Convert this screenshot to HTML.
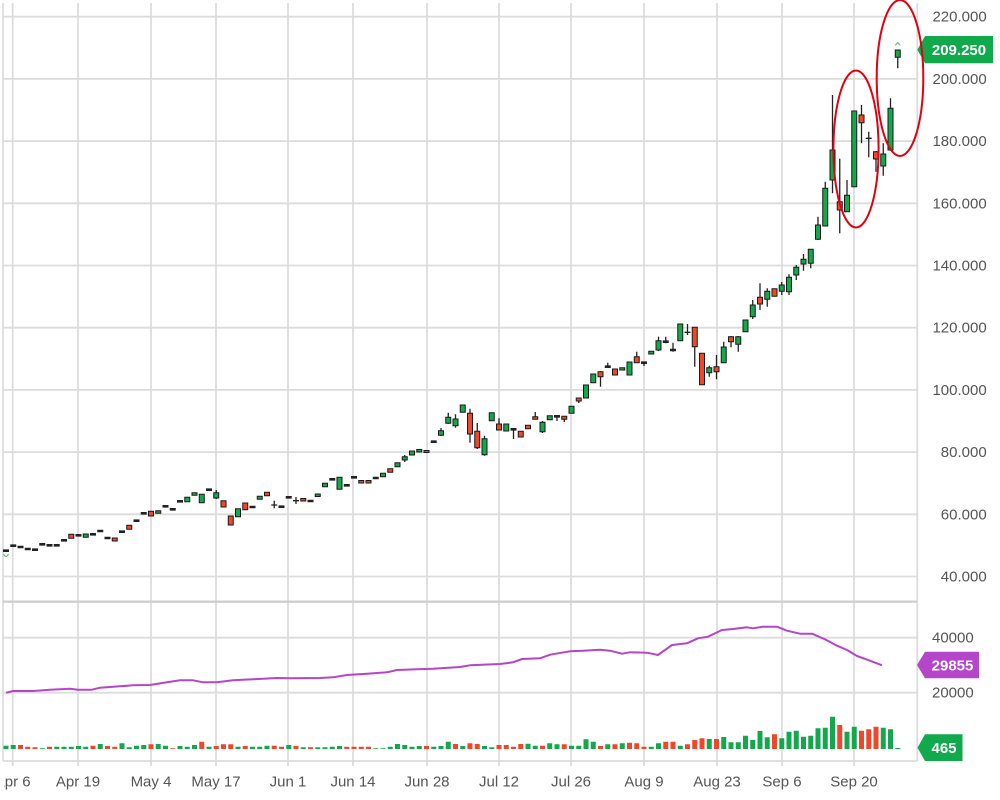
<!DOCTYPE html>
<html><head><meta charset="utf-8"><style>
html,body{margin:0;padding:0;background:#fff;}
svg{display:block;}
.gl{stroke:#dcdcdc;stroke-width:1.8;fill:none;}
.ax{font-family:"Liberation Sans",sans-serif;font-size:15px;fill:#555;}
.bt{font-family:"Liberation Sans",sans-serif;font-size:15px;font-weight:bold;fill:#fff;}
</style></head><body>
<svg width="1000" height="800" viewBox="0 0 1000 800" xmlns="http://www.w3.org/2000/svg">
<rect width="1000" height="800" fill="#fff"/>
<defs><clipPath id="lc"><rect x="4" y="760" width="200" height="40"/></clipPath></defs>

<path class="gl" d="M3,3V761M12.7,3V766M78,3V766M151,3V766M216,3V766M288,3V766M353,3V766M427,3V766M499,3V766M571,3V766M644,3V766M717,3V766M782,3V766M854,3V766M917.3,3V761M3,16.7H917M3,78.9H917M3,141.1H917M3,203.3H917M3,265.5H917M3,327.7H917M3,389.9H917M3,452.1H917M3,514.3H917M3,576.5H917M3,637.7H917M3,692.7H917M3,761H917"/>
<line x1="3" y1="601.7" x2="917" y2="601.7" stroke="#cfcfcf" stroke-width="2.4"/>

<g class="ax" text-anchor="end">
<text x="986.7" y="21.7">220.000</text>
<text x="986.7" y="83.9">200.000</text>
<text x="986.7" y="146.1">180.000</text>
<text x="986.7" y="208.3">160.000</text>
<text x="986.7" y="270.5">140.000</text>
<text x="986.7" y="332.7">120.000</text>
<text x="986.7" y="394.9">100.000</text>
<text x="986.7" y="457.1">80.000</text>
<text x="986.7" y="519.3">60.000</text>
<text x="986.7" y="581.5">40.000</text>
</g>
<g class="ax">
<text x="932" y="642.7">40000</text>
<text x="932" y="697.7">20000</text>
</g>
<g class="ax" text-anchor="middle">
<text x="12.7" y="786.5" clip-path="url(#lc)">Apr 6</text>
<text x="78" y="786.5">Apr 19</text>
<text x="151" y="786.5">May 4</text>
<text x="216" y="786.5">May 17</text>
<text x="288" y="786.5">Jun 1</text>
<text x="353" y="786.5">Jun 14</text>
<text x="427" y="786.5">Jun 28</text>
<text x="499" y="786.5">Jul 12</text>
<text x="571" y="786.5">Jul 26</text>
<text x="644" y="786.5">Aug 9</text>
<text x="717" y="786.5">Aug 23</text>
<text x="782" y="786.5">Sep 6</text>
<text x="854" y="786.5">Sep 20</text>
</g>

<!-- wicks -->
<path fill="none" stroke="#222" stroke-width="1.3" d="M216.25,490V499M274.25,500.7V508.3M271.25,505H277.25M296,497V504M293,500.7H299M404.75,455V462M441,428V436M448.25,412.7V424M455.5,414.3V427.7M470,408.7V442.7M477.25,423V449M484.5,435.7V455.7M499,418.3V430M513.5,429V439M535.25,412V419M542.5,421V433M557,416V421M564.25,416V422M578.75,398V403M600.5,371V386.7M607.75,362.7V367M636.75,351.7V362.7M644,362V366M658.5,336.7V351M665.75,336.7V343.3M673,342.7V351.7M687.5,324V335M684.5,332.3H690.5M694.75,327V366.7M709.25,365.7V376.7M716.5,355V379.3M723.75,341.7V363M731,336V347.3M738.25,336V351.7M752.75,300V319M760,283.3V310M767.25,288.3V306.7M781.75,282V295M789,274.3V295M796.25,265V280M803.5,254V270.7M810.75,249V268.3M818,216.7V240M825.25,181.7V226M832.5,95V193.3M839.75,158.7V233.3M847,180V212M861.5,105V143.3M868.75,131.7V157.3M865.75,138.3H871.75M876,151V171.7M883.25,143.3V175.7M890.5,98.3V150M897.75,50V68.3"/>

<!-- dash candles -->
<path fill="#222" d="M3,549.4h6v2.6h-6zM10.25,544.4h6v2.6h-6zM17.5,545.7h6v2.6h-6zM24.75,547.7h6v2.6h-6zM32,548.4h6v2.6h-6zM39.25,543h6v2.6h-6zM46.5,544h6v2.6h-6zM53.75,544h6v2.6h-6zM61,539h6v2.6h-6zM75.5,534h6v2.6h-6zM90,533h6v2.6h-6zM97.25,529.7h6v2.6h-6zM104.5,536.7h6v2.6h-6zM119,530.4h6v2.6h-6zM133.5,519.4h6v2.6h-6zM140.75,512h6v2.6h-6zM162.5,505h6v2.6h-6zM169.75,508h6v2.6h-6zM177,500h6v2.6h-6zM206,488.4h6v2.6h-6zM249.5,505.7h6v2.6h-6zM278.5,505.4h6v2.6h-6zM285.75,496h6v2.6h-6zM307.5,499.7h6v2.6h-6zM329.25,478h6v2.6h-6zM343.75,484h6v2.6h-6zM351,476h6v2.6h-6zM372.75,476.7h6v2.6h-6zM430.75,440.4h6v2.6h-6zM510.5,428h6v2.6h-6zM554,415h6v2.6h-6zM604.75,365.4h6v2.6h-6zM641,361.4h6v2.6h-6zM662.75,340.4h6v2.6h-6zM670,348.7h6v2.6h-6z"/>

<!-- green candles -->
<path fill="#13a84c" stroke="#1a1a1a" stroke-width="1" d="M83.25,534h5v3.3h-5zM155.75,510.7h5v2.6h-5zM184.75,497.3h5v4.4h-5zM192,492.7h5v2.6h-5zM199.25,494.3h5v8.4h-5zM213.75,492.7h5v5.3h-5zM235.5,508.7h5v8h-5zM257.25,496.3h5v3h-5zM315.25,494h5v2.5h-5zM322.5,483.3h5v3.4h-5zM337,477.3h5v12h-5zM380.5,473.3h5v3.4h-5zM395,462.7h5v4h-5zM402.25,456.7h5v3.3h-5zM409.5,451h5v4h-5zM416.75,449.5h5v2.5h-5zM424,450.5h5v2h-5zM438.5,430.7h5v4.6h-5zM445.75,417.3h5v6h-5zM453,419h5v6.7h-5zM460.25,405h5v7.3h-5zM482,438.7h5v16h-5zM489.25,412.7h5v8h-5zM503.75,424h5v7h-5zM540,422.3h5v9.4h-5zM547.25,415.7h5v4h-5zM569,406.3h5v7h-5zM583.5,385h5v13h-5zM590.75,374h5v8.7h-5zM619.75,367.7h5v2.3h-5zM627,362h5v13h-5zM648.75,351.3h5v2.7h-5zM656,340.7h5v9.3h-5zM677.75,324h5v16.7h-5zM706.75,367.7h5v5h-5zM721.25,347h5v15.7h-5zM735.75,336.7h5v7.6h-5zM743,320h5v11.7h-5zM750.25,305h5v11.7h-5zM764.75,291.3h5v8h-5zM779.25,285h5v6.3h-5zM786.5,277.3h5v14.4h-5zM793.75,267.3h5v7.7h-5zM801,259.3h5v4.7h-5zM808.25,249.3h5v14h-5zM815.5,225h5v14.3h-5zM822.75,188.3h5v37.7h-5zM830,150h5v30h-5zM844.5,195.3h5v16.4h-5zM851.75,111h5v75.7h-5zM880.75,154h5v12h-5zM888,108.3h5v41.7h-5zM895.25,50h5v7.3h-5z"/>

<!-- red candles -->
<path fill="#f0472a" stroke="#1a1a1a" stroke-width="1" d="M68.75,534.3h5v4h-5zM112.25,538h5v3h-5zM126.75,525.3h5v4h-5zM148.5,511.3h5v4.7h-5zM221,500.7h5v6.3h-5zM228.25,516h5v9h-5zM242.75,503h5v6.7h-5zM264.5,492.3h5v3.4h-5zM300.75,498.5h5v2.5h-5zM358.75,480.5h5v2.5h-5zM366,480.5h5v2.5h-5zM387.75,468.7h5v3.6h-5zM467.5,413.3h5v20.7h-5zM474.75,431.3h5v16.4h-5zM496.5,424h5v6h-5zM518.25,431.3h5v5.7h-5zM525.5,425.3h5v3.4h-5zM532.75,416.7h5v2.6h-5zM561.75,416.3h5v3h-5zM576.25,398h5v3h-5zM598,371.7h5v5h-5zM612.5,369h5v6h-5zM634.25,356.7h5v6h-5zM692.25,327.3h5v19.4h-5zM699.5,353.3h5v31.4h-5zM714,366.7h5v5h-5zM728.5,336.7h5v5h-5zM757.5,297.3h5v6.7h-5zM772,288.7h5v7.6h-5zM837.25,201.7h5v8.3h-5zM859,115h5v7.7h-5zM873.5,151.7h5v7.3h-5z"/>

<!-- markers -->
<path d="M3.5,554 Q6,559 8.5,554" stroke="#5cc775" stroke-width="1.2" fill="none"/>
<polyline points="895.2,45.4 897.7,42.5 900.2,45.4" stroke="#5cc775" stroke-width="1.2" fill="none"/>

<!-- volume bars green -->
<path fill="#13a84c" d="M3.5,749v-3.3h5v3.3zM10.75,749v-4h5v4zM39.75,749v-0.8h5v0.8zM54.25,749v-2.3h5v2.3zM61.5,749v-2.3h5v2.3zM68.75,749v-2.3h5v2.3zM76,749v-3h5v3zM83.25,749v-2.3h5v2.3zM97.75,749v-5h5v5zM119.5,749v-5.7h5v5.7zM126.75,749v-1.7h5v1.7zM134,749v-3.3h5v3.3zM141.25,749v-4h5v4zM155.75,749v-5h5v5zM163,749v-3.3h5v3.3zM177.5,749v-3h5v3zM184.75,749v-2.3h5v2.3zM192,749v-4h5v4zM206.5,749v-2.3h5v2.3zM235.5,749v-2.3h5v2.3zM250,749v-2.3h5v2.3zM257.25,749v-2.3h5v2.3zM264.5,749v-3.3h5v3.3zM286.25,749v-4h5v4zM300.75,749v-1.7h5v1.7zM315.25,749v-1.7h5v1.7zM322.5,749v-1.7h5v1.7zM329.75,749v-2.3h5v2.3zM337,749v-3h5v3zM373.25,749v-0.8h5v0.8zM380.5,749v-0.8h5v0.8zM387.75,749v-2.3h5v2.3zM395,749v-5h5v5zM402.25,749v-4h5v4zM409.5,749v-2.3h5v2.3zM416.75,749v-3h5v3zM431.25,749v-2.3h5v2.3zM438.5,749v-3h5v3zM445.75,749v-7.3h5v7.3zM460.25,749v-3h5v3zM482,749v-3h5v3zM489.25,749v-1.7h5v1.7zM525.5,749v-5.3h5v5.3zM532.75,749v-3.3h5v3.3zM547.25,749v-5.7h5v5.7zM554.5,749v-4.7h5v4.7zM569,749v-3.3h5v3.3zM576.25,749v-3.3h5v3.3zM583.5,749v-9.7h5v9.7zM590.75,749v-7.3h5v7.3zM605.25,749v-4.7h5v4.7zM619.75,749v-5.7h5v5.7zM648.75,749v-2.3h5v2.3zM656,749v-5.7h5v5.7zM677.75,749v-3.3h5v3.3zM706.75,749v-10h5v10zM721.25,749v-12h5v12zM728.5,749v-6.7h5v6.7zM735.75,749v-6.7h5v6.7zM743,749v-13.3h5v13.3zM750.25,749v-9h5v9zM757.5,749v-18h5v18zM764.75,749v-11.7h5v11.7zM779.25,749v-10.7h5v10.7zM786.5,749v-17.3h5v17.3zM793.75,749v-18.3h5v18.3zM801,749v-12.3h5v12.3zM808.25,749v-13.3h5v13.3zM815.5,749v-20.7h5v20.7zM822.75,749v-21.3h5v21.3zM830,749v-32.3h5v32.3zM844.5,749v-17.3h5v17.3zM851.75,749v-22.3h5v22.3zM880.75,749v-21.3h5v21.3zM888,749v-19.7h5v19.7zM895.25,749v-1h5v1z"/>

<!-- volume bars red -->
<path fill="#f0472a" d="M18,749v-4h5v4zM25.25,749v-2.3h5v2.3zM32.5,749v-1.7h5v1.7zM47,749v-2.3h5v2.3zM90.5,749v-3.3h5v3.3zM105,749v-3h5v3zM112.25,749v-2.3h5v2.3zM148.5,749v-4.7h5v4.7zM170.25,749v-0.8h5v0.8zM199.25,749v-7.3h5v7.3zM213.75,749v-3h5v3zM221,749v-4.7h5v4.7zM228.25,749v-4.7h5v4.7zM242.75,749v-3h5v3zM271.75,749v-3.3h5v3.3zM279,749v-2.3h5v2.3zM293.5,749v-3h5v3zM308,749v-1.7h5v1.7zM344.25,749v-2.3h5v2.3zM351.5,749v-2.3h5v2.3zM358.75,749v-2.3h5v2.3zM366,749v-2.3h5v2.3zM424,749v-3h5v3zM453,749v-5h5v5zM467.5,749v-5.7h5v5.7zM474.75,749v-5h5v5zM496.5,749v-4h5v4zM503.75,749v-4h5v4zM511,749v-2.3h5v2.3zM518.25,749v-5h5v5zM540,749v-3.3h5v3.3zM561.75,749v-4.7h5v4.7zM598,749v-3h5v3zM612.5,749v-4.7h5v4.7zM627,749v-6.3h5v6.3zM634.25,749v-5.7h5v5.7zM641.5,749v-2.3h5v2.3zM663.25,749v-7.3h5v7.3zM670.5,749v-7.3h5v7.3zM685,749v-4.7h5v4.7zM692.25,749v-9h5v9zM699.5,749v-10.7h5v10.7zM714,749v-10h5v10zM772,749v-14.7h5v14.7zM837.25,749v-24h5v24zM859,749v-18.3h5v18.3zM866.25,749v-19.7h5v19.7zM873.5,749v-22.3h5v22.3z"/>

<!-- volume MA line -->
<polyline fill="none" stroke="#b545c9" stroke-width="2" stroke-linejoin="round" points="6,692.7 13.3,691 33,691 50,689.7 70,688.7 78,689.7 92,689.7 100,687.7 120,686.3 133,685.3 150,685 167,682.3 180,680.3 193,680.3 203,682.3 217,682.3 233,680.3 253,679.3 277,678 290,678.3 320,678 333,677.3 347,675 367,673.7 387,672.3 397,670 417,669.3 433,668.7 460,667 470,665.3 500,664 513,662.3 522,659 540,658.3 550,654.7 570,651.3 583,650.7 600,649.7 610,650.7 622,653.7 630,652.3 647,652.7 658,655 672,645 687,643.3 698,638.3 708,636.7 722,630 733,629 747,627.3 753,628.3 763,626.7 777,626.7 787,630.7 800,633.7 812,633.7 825,639.3 837,645.7 847,650 857,656 870,660.7 882,665.3"/>

<!-- badges -->
<polygon points="917.3,49.7 925,36 993,36 993,63.3 925,63.3" fill="#10aa4c"/>
<text class="bt" x="959" y="55.2" text-anchor="middle">209.250</text>
<polygon points="917,665 925,651.7 979,651.7 979,678.3 925,678.3" fill="#b545c9"/>
<text class="bt" x="952.5" y="670.4" text-anchor="middle">29855</text>
<polygon points="917.5,747.7 925,734.3 962.5,734.3 962.5,761 925,761" fill="#10aa4c"/>
<text class="bt" x="944" y="753" text-anchor="middle">465</text>

<!-- ellipses -->
<ellipse cx="856" cy="149" rx="22.6" ry="78.5" fill="none" stroke="#e3000f" stroke-width="2"/>
<ellipse cx="900" cy="78" rx="23.3" ry="78" fill="none" stroke="#e3000f" stroke-width="2"/>
</svg>
</body></html>
